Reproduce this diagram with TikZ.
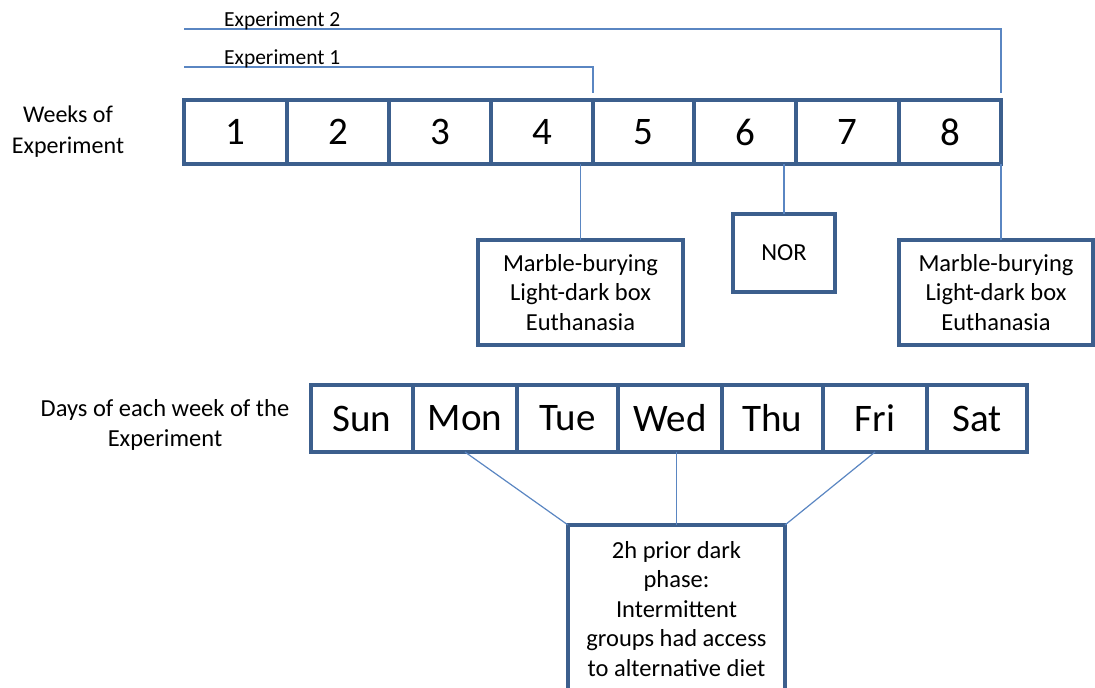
\documentclass[tikz,border=0pt]{standalone}
\usepackage{fontspec}
\setmainfont{Carlito}
\usetikzlibrary{calc}
\definecolor{boxblue}{HTML}{3C5F8D}
\definecolor{linkblue}{HTML}{5A86C2}
\begin{document}
\begin{tikzpicture}[x=1pt,y=-1pt,
  cell/.style={draw=boxblue,line width=4pt,inner sep=0pt,outer sep=0pt,font=\fontsize{39}{42}\selectfont},
  tbox/.style={draw=boxblue,line width=4pt,inner sep=0pt,outer sep=0pt,align=center,font=\fontsize{24.5}{29.5}\selectfont},
  lbl/.style={align=center,inner sep=0pt,font=\fontsize{24}{31}\selectfont},
  exlbl/.style={inner sep=0pt,font=\fontsize{21.5}{24}\selectfont},
  link/.style={draw=linkblue,line width=1.2pt}]
\useasboundingbox (0,0) rectangle (1095,688);
\clip (0,0) rectangle (1095,688);
% experiment brackets
\coordinate (e2s) at (184,29);
\coordinate (e2e) at (1001,93);
\coordinate (e1s) at (184,67);
\coordinate (e1e) at (593,93);
\draw[link] (e2s) -| (e2e);
\draw[link] (e1s) -| (e1e);
\node[exlbl,anchor=base west] (ex2) at (224,26.5) {Experiment 2};
\node[exlbl,anchor=base west] (ex1) at (224,64.5) {Experiment 1};
% weeks
\node[lbl] (weeks) at (68,131.5) {Weeks of\\Experiment};
\foreach \a/\b/\n in {184/287/1,287/389/2,389/491/3,491/593/4,593/694/5,694/796/6,796/899/7,899/1001/8}
  \node[cell,minimum width={\b-\a},minimum height=64] (w\n) at ({(\a+\b)/2},132) {\n};
% test boxes
\node[tbox,minimum width=205,minimum height=105] (m1) at (580.5,292.5) {Marble-burying\\Light-dark box\\Euthanasia};
\node[tbox,minimum width=102,minimum height=78] (nor) at (784,253) {NOR};
\node[tbox,minimum width=194,minimum height=105] (m2) at (996,292.5) {Marble-burying\\Light-dark box\\Euthanasia};
\draw[link] (m1.north) -- (m1.north |- w4.south);
\draw[link] (nor.north) -- (nor.north |- w6.south);
\draw[link] (w8.south east) -- (w8.south east |- m2.north);
% days
\node[lbl,font=\fontsize{24.5}{30}\selectfont] (days) at (165,425) {Days of each week of the\\Experiment};
\foreach \a/\b/\n in {311/413/Sun,413/517/Mon,517/618/Tue,618/722/Wed,722/823/Thu,823/927/Fri,927/1027/Sat}
  \node[cell,minimum width={\b-\a},minimum height=67] (\n) at ({(\a+\b)/2},418.5) {\n};
% diet box
\node[tbox,anchor=north,minimum width=217,inner ysep=16] (dbox) at (676.5,525) {2h prior dark\\phase:\\Intermittent\\groups had access\\to alternative diet};
\draw[link] (Mon.south) -- (dbox.north west);
\draw[link] (dbox.north) -- (dbox.north |- Wed.south);
\draw[link] (Fri.south) -- (dbox.north east);
\end{tikzpicture}
\end{document}
